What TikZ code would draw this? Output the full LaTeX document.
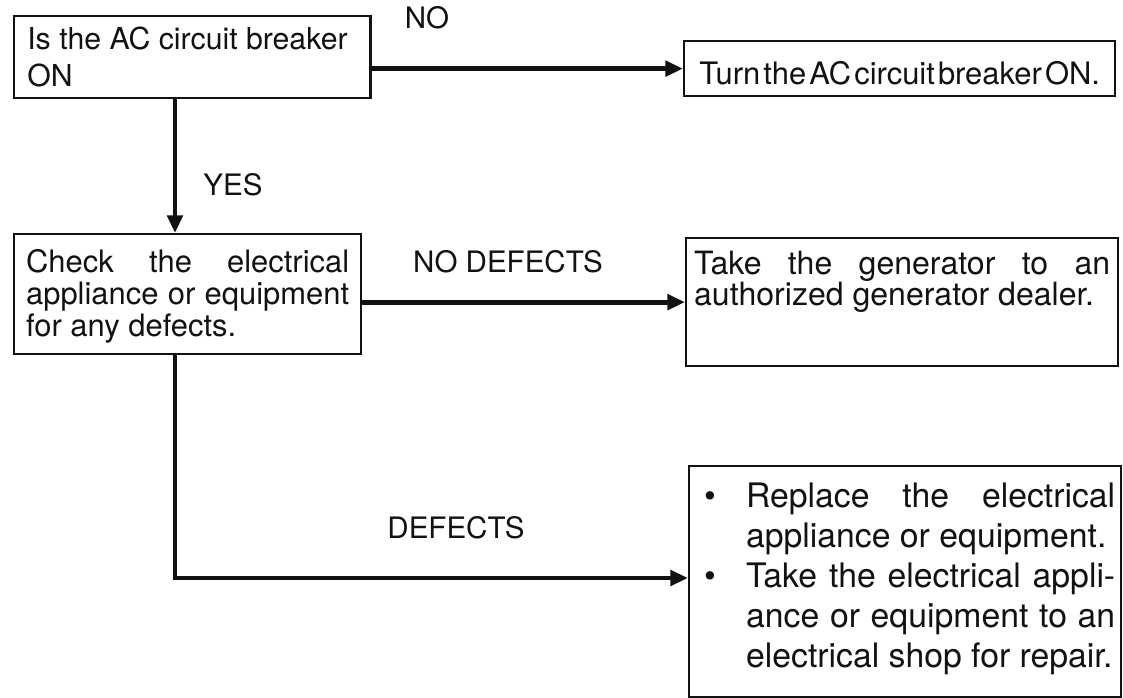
\documentclass[tikz,border=0pt]{standalone}
\usepackage{fontspec}
\setmainfont{TeX Gyre Heros}
\usetikzlibrary{arrows.meta,positioning,calc}
\definecolor{Canvas}{HTML}{FFFFFF}
\definecolor{Ink}{HTML}{121212}

\begin{document}
\begin{tikzpicture}[x=0.025cm,y=-0.025cm,font=\fontsize{22}{24}\selectfont,flowline/.style={draw=Ink,line width=3.4pt,-{Triangle[length=4.4mm,width=3.8mm]}},stepbox/.style={rectangle,draw=Ink,text=Ink,line width=1.6pt,anchor=north west,inner ysep=0pt},tag/.style={text=Ink,inner sep=0pt,font=\fontsize{21}{24}\selectfont}]
\fill[Canvas] (0,0) rectangle (1123,697);
\useasboundingbox (0,0) rectangle (1123,697);
\node[stepbox,inner xsep=3.3mm,text height=8.25mm,text depth=12.25mm] (breaker) at (13,15) {\vtop{\hsize=82.5mm\fontsize{21.5}{26}\selectfont\baselineskip=9.25mm\tolerance=10000\noindent Is the AC circuit breaker\newline ON\par}};
\node[stepbox,inner xsep=2mm,text width=103.75mm,text height=10.75mm,text depth=3mm,align=center] (turnon) at (683,40) {\spaceskip=0.1em Turn the AC circuit breaker ON.};
\node[stepbox,inner xsep=3mm,text height=9.5mm,text depth=20.5mm] (check) at (13,233) {\vtop{\hsize=80.75mm\fontsize{22}{24}\selectfont\baselineskip=8mm\tolerance=10000\noindent Check the electrical\linebreak appliance or equipment\linebreak for any defects.\par}};
\node[stepbox,inner xsep=2mm,text height=9mm,text depth=23mm] (dealer) at (685,237) {\vtop{\hsize=104mm\fontsize{22.8}{24}\selectfont\baselineskip=7.8mm\tolerance=10000\noindent Take the generator to an\linebreak authorized generator dealer.\par}};
\node[stepbox,inner xsep=1.5mm,text height=10.25mm,text depth=47.5mm] (replace) at (688,465) {\vtop{\hsize=105mm\fontsize{24}{26}\selectfont\baselineskip=10mm\lineskiplimit=-20pt
\hbox to\hsize{\makebox[12.75mm][l]{\hspace{2.25mm}\textbullet}Replace\hfill the\hfill electrical}
\hbox to\hsize{\hskip12.75mm appliance or equipment.\hfil}
\hbox to\hsize{\makebox[12.75mm][l]{\hspace{2.25mm}\textbullet}Take the electrical appli-}
\hbox to\hsize{\hskip12.75mm ance or equipment to an}
\hbox to\hsize{\hskip12.75mm electrical shop for repair.\hfil}}};
\coordinate (spine) at (175,0);
\coordinate (low) at (0,578);
\draw[flowline] (breaker.east |- turnon.west) -- (turnon.west);
\draw[flowline] (breaker.south -| spine) -- (check.north -| spine);
\draw[flowline] (check.east |- dealer.west) -- (dealer.west);
\draw[flowline] (check.south -| spine) |- (replace.west |- low);
\node[tag] (no) at (427,18) {NO};
\node[tag] (yes) at (233,185) {YES};
\node[tag] (nodefects) at (508,262) {NO DEFECTS};
\node[tag] (defects) at (456,528) {DEFECTS};
\end{tikzpicture}
\end{document}
